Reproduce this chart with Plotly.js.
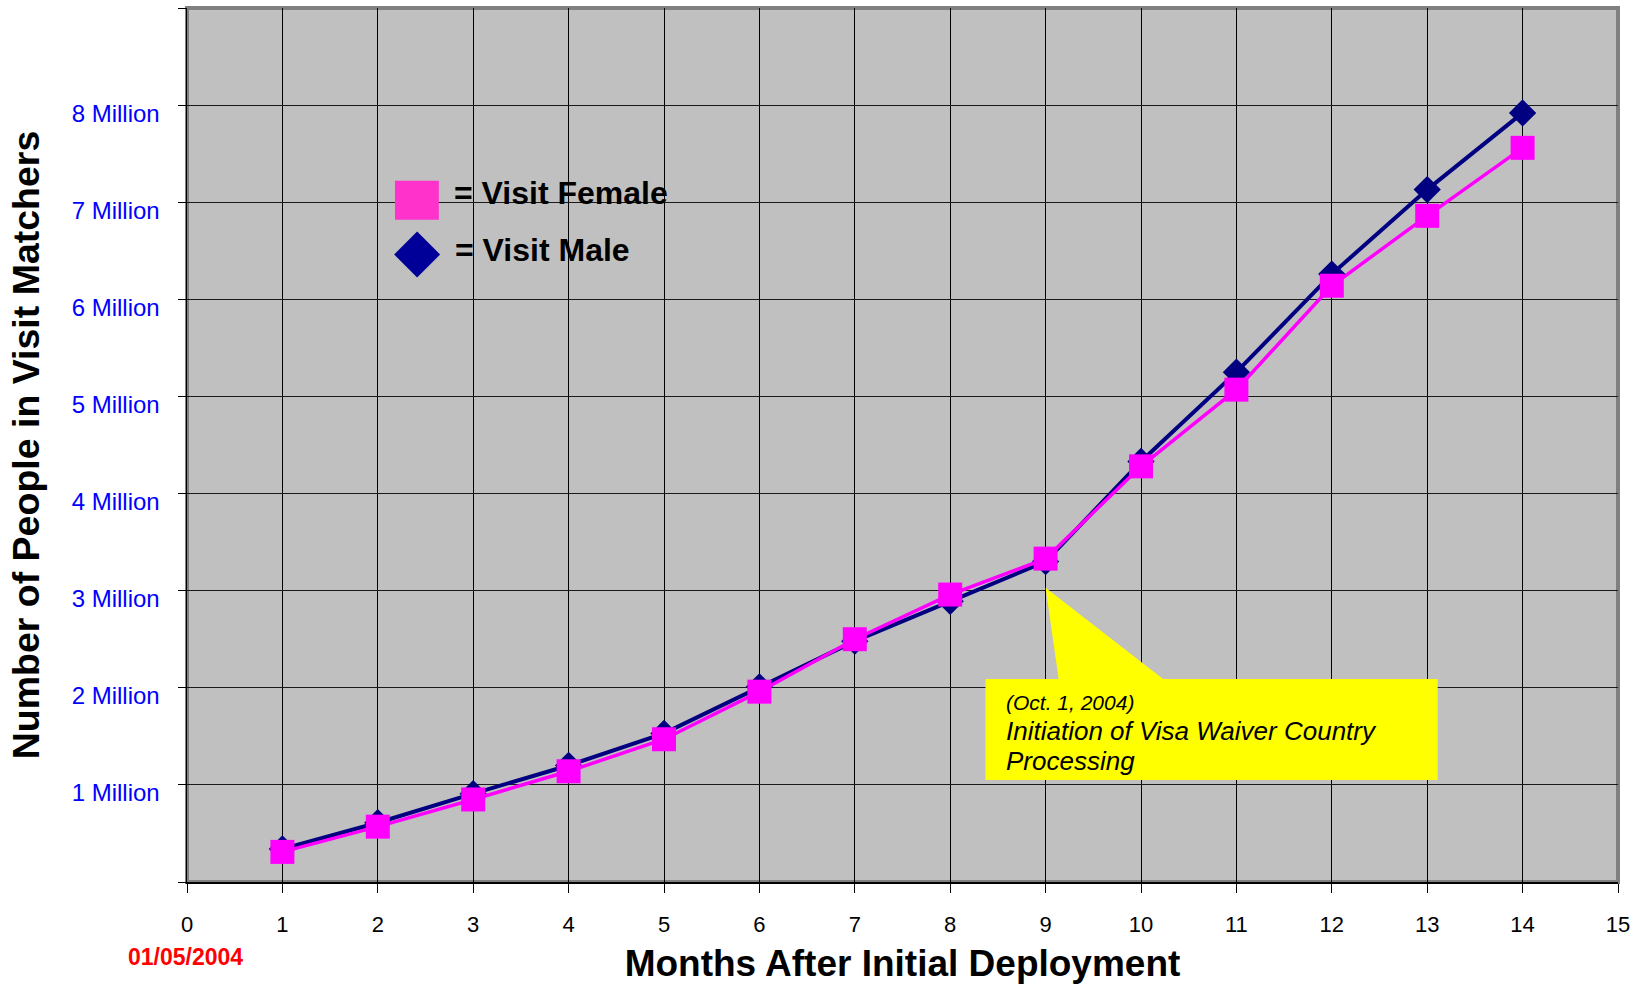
<!DOCTYPE html>
<html>
<head>
<meta charset="utf-8">
<script src="https://cdn.plot.ly/plotly-3.0.1.min.js"></script>
<style>
  html, body { margin: 0; padding: 0; background: #ffffff; }
  #chart { width: 1642px; height: 986px; }
</style>
</head>
<body>
<div id="chart"></div>
<script>
// ---- Data (values in millions of people) ----
const months = [1, 2, 3, 4, 5, 6, 7, 8, 9, 10, 11, 12, 13, 14];
const visitMale = [0.34, 0.61, 0.91, 1.20, 1.53, 2.01, 2.48, 2.89, 3.30, 4.33, 5.25, 6.26, 7.13, 7.92];
const visitFemale = [0.31, 0.57, 0.85, 1.14, 1.47, 1.96, 2.50, 2.96, 3.33, 4.28, 5.07, 6.14, 6.86, 7.56];

const xTickVals = [0, 1, 2, 3, 4, 5, 6, 7, 8, 9, 10, 11, 12, 13, 14, 15];
const yTickVals = [0, 1, 2, 3, 4, 5, 6, 7, 8, 9];
const yTickText = ['', '1 Million', '2 Million', '3 Million', '4 Million', '5 Million', '6 Million', '7 Million', '8 Million', ''];

const seriesNames = ['Visit Male', 'Visit Female'];
const legendLabels = ['= Visit Female', '= Visit Male'];
const xTitle = 'Months After Initial Deployment';
const yTitle = 'Number of People in Visit Matchers';
const startDate = '01/05/2004';
const calloutLines = ['(Oct. 1, 2004)', 'Initiation of Visa Waiver Country', 'Processing'];
const calloutMonth = 9;

const FONT = '"Liberation Sans", Arial, Helvetica, sans-serif';

const traces = [
  {
    x: months, y: visitMale, name: seriesNames[0], type: 'scatter', mode: 'lines+markers',
    line: { color: '#000080', width: 4 },
    marker: { symbol: 'diamond', size: 21, color: '#000080' },
    showlegend: false, hoverinfo: 'skip'
  },
  {
    x: months, y: visitFemale, name: seriesNames[1], type: 'scatter', mode: 'lines+markers',
    line: { color: '#FF00FF', width: 3.5 },
    marker: { symbol: 'square', size: 24, color: '#FF00FF' },
    showlegend: false, hoverinfo: 'skip'
  }
];

const tipY = visitFemale[calloutMonth - 1] - 0.30;

const shapes = [
  // plot frame (gray)
  { type: 'rect', xref: 'paper', yref: 'paper', x0: 0, x1: 1, y0: 0, y1: 1,
    line: { color: '#808080', width: 4 }, layer: 'between' },
  // legend: pink square
  { type: 'rect', xref: 'x', yref: 'y', x0: 2.18, x1: 2.64, y0: 6.82, y1: 7.22,
    fillcolor: '#FF33CC', line: { width: 0 }, layer: 'between' },
  // legend: navy diamond
  { type: 'path', xref: 'x', yref: 'y',
    path: 'M 2.171 6.462 L 2.412 6.699 L 2.653 6.462 L 2.412 6.225 Z',
    fillcolor: '#000099', line: { width: 0 }, layer: 'between' },
  // callout tail
  { type: 'path', xref: 'x', yref: 'y',
    path: 'M ' + calloutMonth + ' ' + tipY.toFixed(2) + ' L 9.15 2.0 L 10.35 2.0 Z',
    fillcolor: '#FFFF00', line: { width: 0 }, layer: 'between' },
  // callout box
  { type: 'rect', xref: 'x', yref: 'y', x0: 8.37, x1: 13.11, y0: 1.05, y1: 2.09,
    fillcolor: '#FFFF00', line: { width: 0 }, layer: 'between' }
];

const annotations = [
  { xref: 'x', yref: 'y', x: 2.78, y: 7.10, xanchor: 'left', yanchor: 'middle', showarrow: false,
    text: legendLabels[0], font: { family: FONT, size: 32, color: '#000000', weight: 'bold' } },
  { xref: 'x', yref: 'y', x: 2.79, y: 6.51, xanchor: 'left', yanchor: 'middle', showarrow: false,
    text: legendLabels[1], font: { family: FONT, size: 32, color: '#000000', weight: 'bold' } },
  { xref: 'x', yref: 'y', x: 8.56, y: 1.85, xanchor: 'left', yanchor: 'middle', showarrow: false,
    text: calloutLines[0], font: { family: FONT, size: 21, color: '#000000', style: 'italic' } },
  { xref: 'x', yref: 'y', x: 8.56, y: 1.56, xanchor: 'left', yanchor: 'middle', showarrow: false,
    text: calloutLines[1], font: { family: FONT, size: 26, color: '#000000', style: 'italic' } },
  { xref: 'x', yref: 'y', x: 8.56, y: 1.25, xanchor: 'left', yanchor: 'middle', showarrow: false,
    text: calloutLines[2], font: { family: FONT, size: 26, color: '#000000', style: 'italic' } },
  { xref: 'paper', yref: 'paper', x: -0.001, y: -0.086, xanchor: 'center', yanchor: 'middle', showarrow: false,
    text: startDate, font: { family: FONT, size: 23, color: '#FF0000', weight: 'bold' } }
];

const layout = {
  width: 1642, height: 986,
  paper_bgcolor: '#FFFFFF',
  plot_bgcolor: '#C0C0C0',
  margin: { l: 187, r: 24, t: 8, b: 104, pad: 0 },
  showlegend: false,
  hovermode: false,
  xaxis: {
    range: [0, 15], tickmode: 'array', tickvals: xTickVals,
    showgrid: true, gridcolor: '#000000', gridwidth: 1,
    zeroline: false,
    showline: true, linecolor: '#000000', linewidth: 1.5,
    ticks: 'outside', ticklen: 9, tickcolor: '#000000', tickwidth: 1,
    ticklabelstandoff: 13,
    tickfont: { family: FONT, size: 22, color: '#000000' },
    title: { text: xTitle, standoff: 14, font: { family: FONT, size: 37, color: '#000000', weight: 'bold' } },
    automargin: false, fixedrange: true
  },
  yaxis: {
    range: [0, 9], tickmode: 'array', tickvals: yTickVals, ticktext: yTickText,
    showgrid: true, gridcolor: '#1a1a1a', gridwidth: 1,
    zeroline: false,
    showline: true, linecolor: '#000000', linewidth: 1.5,
    ticks: 'outside', ticklen: 8, tickcolor: '#000000', tickwidth: 1,
    ticklabelstandoff: 13, ticklabelshift: 8,
    tickfont: { family: FONT, size: 24, color: '#0000FF' },
    title: { text: yTitle, standoff: 20, font: { family: FONT, size: 37.5, color: '#000000', weight: 'bold' } },
    automargin: false, fixedrange: true
  },
  shapes: shapes,
  annotations: annotations
};

Plotly.newPlot('chart', traces, layout, { displayModeBar: false, staticPlot: true });
</script>
</body>
</html>
